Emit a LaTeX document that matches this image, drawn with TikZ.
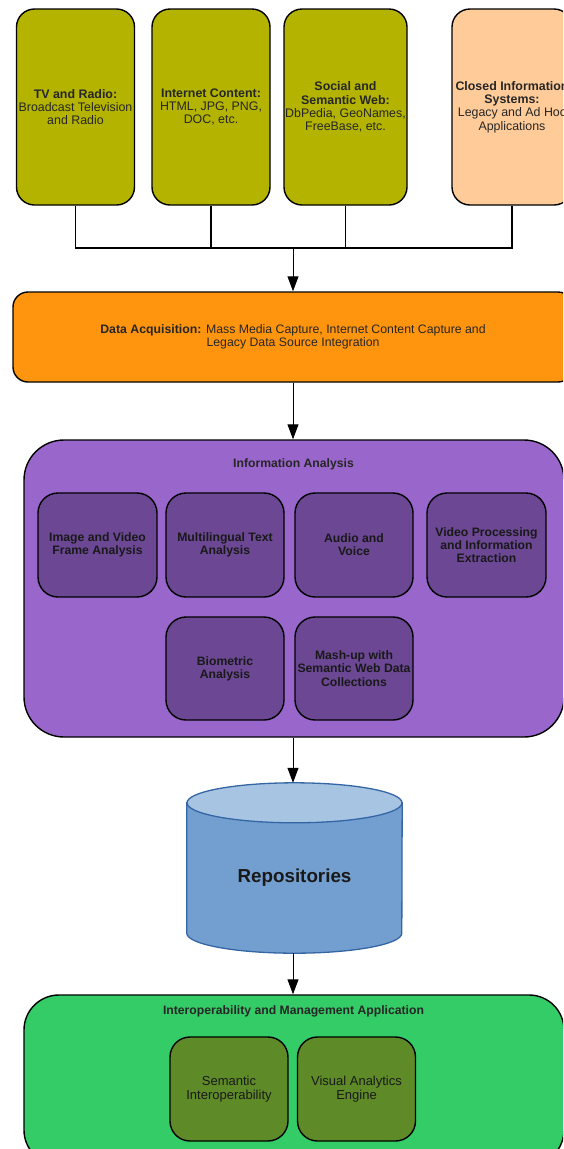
\documentclass[tikz,border=0pt]{standalone}
\usepackage{fontspec}
\setmainfont{Liberation Sans}
\usetikzlibrary{arrows.meta, positioning}

\definecolor{srcolive}{HTML}{B4B400}
\definecolor{srcpeach}{HTML}{FFCC99}
\definecolor{acqorange}{HTML}{FF950E}
\definecolor{infopurple}{HTML}{9966CC}
\definecolor{modpurple}{HTML}{6B4794}
\definecolor{repobody}{HTML}{729FCF}
\definecolor{repotop}{HTML}{A7C5E3}
\definecolor{repoedge}{HTML}{3465A4}
\definecolor{appgreen}{HTML}{33CC66}
\definecolor{modgreen}{HTML}{5E8A28}

\begin{document}
\begin{tikzpicture}[x=1pt, y=-1pt,
                        srcbox/.style={draw=black, line width=1.4pt, rounded corners=18pt, minimum height=196pt, inner sep=0pt, align=center, text=black!85, font=\fontsize{12.4}{13.2}\selectfont},
                        acqbox/.style={draw=black, line width=1.4pt, rounded corners=15pt, fill=acqorange, minimum width=560pt, minimum height=90pt, inner sep=0pt, align=center, text=black!85, font=\fontsize{12.3}{13.5}\selectfont},
                        groupbox/.style={draw=black, line width=1.4pt, rounded corners=40pt, minimum width=540pt, inner sep=0pt},
                        grouptitle/.style={inner sep=0pt, text=black!85, font=\bfseries\fontsize{12.2}{13}\selectfont},
                        modbox/.style={draw=black, line width=1.4pt, rounded corners=20pt, minimum width=118pt, minimum height=104pt, inner sep=0pt, align=center, text=black!90, font=\bfseries\fontsize{12.2}{13.2}\selectfont},
                        link/.style={draw=black, line width=1.4pt},
                        flow/.style={draw=black, line width=1pt, -{Triangle[length=15pt, width=11pt]}}]
                        \useasboundingbox (0,0) rectangle (563,1149);
                        \clip (0,0) rectangle (563,1149);

                        \node[srcbox, fill=srcolive, minimum width=118pt] (tv) at (75.5, 107) {\textbf{TV and Radio:}\\Broadcast Television\\and Radio};
                        \node[srcbox, fill=srcolive, minimum width=118pt] (inet) at (211, 107) {\textbf{Internet Content:}\\HTML, JPG, PNG,\\DOC, etc.};
                        \node[srcbox, fill=srcolive, minimum width=123pt] (social) at (345.5, 107) {\textbf{Social and}\\\textbf{Semantic Web:}\\DbPedia, GeoNames,\\FreeBase, etc.};
                        \node[srcbox, fill=srcpeach, minimum width=120pt] (closed) at (512, 107) {\textbf{Closed Information}\\\textbf{Systems:}\\Legacy and Ad Hoc\\Applications};

                        \coordinate (bus) at (293, 248);
                        \draw[link] (tv.south) |- (bus) -| (closed.south);
                        \draw[link] (inet.south) -- (inet.south |- bus);
                        \draw[link] (social.south) -- (social.south |- bus);

                        \node[acqbox] (acq) at (293, 337) {\textbf{Data Acquisition:} Mass Media Capture, Internet Content Capture and\\Legacy Data Source Integration};
                        \draw[flow] (bus) -- (acq.north);

                        \node[groupbox, fill=infopurple, minimum height=297pt] (info) at (294, 588.5) {};
                        \node[grouptitle] (infotitle) at (293.5, 464) {Information Analysis};
                        \draw[flow] (acq.south) -- (acq.south |- info.north);

                        \node[modbox, fill=modpurple, minimum width=119pt] (img) at (97.5, 545) {Image and Video\\Frame Analysis};
                        \node[modbox, fill=modpurple] (multi) at (225, 545) {Multilingual Text\\Analysis};
                        \node[modbox, fill=modpurple] (audio) at (354, 545) {Audio and\\Voice};
                        \node[modbox, fill=modpurple, minimum width=119pt] (video) at (486.5, 545) {Video Processing\\and Information\\Extraction};
                        \node[modbox, fill=modpurple, minimum height=103pt] (bio) at (225, 668.5) {Biometric\\Analysis};
                        \node[modbox, fill=modpurple, minimum height=103pt] (mash) at (354, 668.5) {Mash-up with\\Semantic Web Data\\Collections};

                        \node[minimum width=215pt, minimum height=170pt, inner sep=0pt] (repo) at (294.5, 868) {};
                        \draw[line width=1.3pt, draw=repoedge, fill=repobody] ([yshift=-20pt]repo.north west) -- ([yshift=20pt]repo.south west) arc[start angle=180, end angle=360, x radius=107.5pt, y radius=20pt] -- ([yshift=-20pt]repo.north east) -- cycle;
                        \draw[line width=1.3pt, draw=repoedge, fill=repotop] ([yshift=-20pt]repo.north) ellipse[x radius=107.5pt, y radius=20pt];
                        \node[inner sep=0pt, text=black!90, font=\bfseries\fontsize{18.8}{20}\selectfont] (repotext) at (294.5, 878) {Repositories};
                        \draw[flow] (info.south -| acq.south) -- (acq.south |- repo.north);

                        \node[groupbox, fill=appgreen, rounded corners=35pt, minimum height=170pt] (app) at (294, 1080) {};
                        \node[grouptitle] (apptitle) at (293.5, 1011) {Interoperability and Management Application};
                        \draw[flow] (repo.south -| acq.south) -- (acq.south |- app.north);

                        \node[modbox, fill=modgreen, font=\fontsize{13}{13.5}\selectfont] (sem) at (229, 1089) {Semantic\\Interoperability};
                        \node[modbox, fill=modgreen, font=\fontsize{13}{13.5}\selectfont] (vis) at (356.5, 1089) {Visual Analytics\\Engine};
                    \end{tikzpicture}
\end{document}
